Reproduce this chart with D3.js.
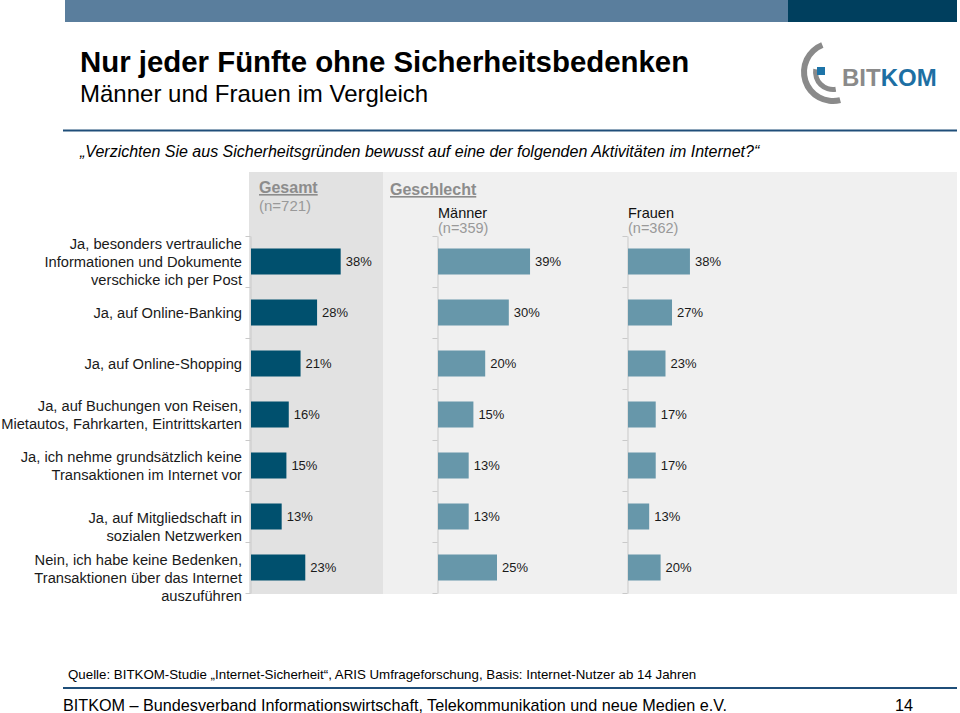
<!DOCTYPE html>
<html><head><meta charset="utf-8">
<script src="https://cdn.jsdelivr.net/npm/d3@7"></script>
<style>body{margin:0;background:#fff}svg{display:block;font-family:"Liberation Sans",Arial,sans-serif}</style>
</head><body>
<svg id="chart" width="960" height="713"></svg>
<script>
const categories = [
  "Ja, besonders vertrauliche|Informationen und Dokumente|verschicke ich per Post",
  "Ja, auf Online-Banking",
  "Ja, auf Online-Shopping",
  "Ja, auf Buchungen von Reisen,|Mietautos, Fahrkarten, Eintrittskarten",
  "Ja, ich nehme grundsätzlich keine|Transaktionen im Internet vor",
  "Ja, auf Mitgliedschaft in|sozialen Netzwerken",
  "Nein, ich habe keine Bedenken,|Transaktionen über das Internet|auszuführen"
];
const gesamt  = [38, 28, 21, 16, 15, 13, 23];
const maenner = [39, 30, 20, 15, 13, 13, 25];
const frauen  = [38, 27, 23, 17, 17, 13, 20];
const groupNames = ["Gesamt", "Männer", "Frauen"];
const groupN = ["(n=721)", "(n=359)", "(n=362)"];
const sectionTitle = "Geschlecht";

const svg = d3.select("#chart");

// top bar
svg.append("rect").attr("x",65).attr("y",0).attr("width",723).attr("height",22).attr("fill","#5a7e9d");
svg.append("rect").attr("x",788).attr("y",0).attr("width",169).attr("height",22).attr("fill","#003f5e");

// logo
const logo = svg.append("g").attr("transform","translate(833,72)");
const arc = d3.arc();
logo.append("path").attr("d",arc({innerRadius:26,outerRadius:32,startAngle:Math.PI*0.92,endAngle:Math.PI*1.88})).attr("fill","#8a8a8a");
logo.append("path").attr("d",arc({innerRadius:15,outerRadius:20,startAngle:Math.PI*0.95,endAngle:Math.PI*1.55})).attr("fill","#8a8a8a");
logo.append("rect").attr("x",-16).attr("y",-5).attr("width",8).attr("height",8).attr("fill","#1d74a8");
const lt = svg.append("text").attr("x",842).attr("y",86).attr("font-size",24).attr("font-weight","bold");
lt.append("tspan").attr("fill","#8a8a8a").text("BIT");
lt.append("tspan").attr("fill","#1d6fa3").text("KOM");

// titles
svg.append("text").attr("x",80).attr("y",72).attr("font-size",29.4).attr("font-weight","bold").attr("fill","#000")
  .text("Nur jeder Fünfte ohne Sicherheitsbedenken");
svg.append("text").attr("x",80).attr("y",102).attr("font-size",24).attr("fill","#000")
  .text("Männer und Frauen im Vergleich");
svg.append("line").attr("x1",63).attr("x2",957).attr("y1",130.5).attr("y2",130.5).attr("stroke","#1f4e79").attr("stroke-width",2);
svg.append("text").attr("x",80).attr("y",157).attr("font-size",16).attr("font-style","italic").attr("fill","#000")
  .text("\u201EVerzichten Sie aus Sicherheitsgründen bewusst auf eine der folgenden Aktivitäten im Internet?\u201C");

// panels
svg.append("rect").attr("x",249).attr("y",172).attr("width",134).attr("height",422).attr("fill","#e2e2e2");
svg.append("rect").attr("x",383).attr("y",172).attr("width",574).attr("height",422).attr("fill","#f0f0f0");

// scales
const y = d3.scaleBand().domain(categories).range([236,593]).paddingInner(0.49).paddingOuter(0.245);
const yTick = d3.scaleLinear().domain([0, categories.length]).range([236,593]);
const xG = d3.scaleLinear().domain([0,100]).range([251,487]);
const xM = d3.scaleLinear().domain([0,100]).range([438,674]);
const xF = d3.scaleLinear().domain([0,100]).range([628,791]);

const series = [
  {name:groupNames[0], n:groupN[0], vals:gesamt, x:xG, color:"#00506e"},
  {name:groupNames[1], n:groupN[1], vals:maenner, x:xM, color:"#6797aa"},
  {name:groupNames[2], n:groupN[2], vals:frauen, x:xF, color:"#6797aa"}
];

// headers
svg.append("text").attr("x",259).attr("y",193).attr("font-size",16).attr("font-weight","bold").attr("fill","#8c8c8c")
  .attr("text-decoration","underline").text(series[0].name);
svg.append("text").attr("x",259).attr("y",211).attr("font-size",15).attr("fill","#999").text(series[0].n);
svg.append("text").attr("x",390).attr("y",195).attr("font-size",16).attr("font-weight","bold").attr("fill","#8c8c8c")
  .attr("text-decoration","underline").text(sectionTitle);
series.slice(1).forEach(s => {
  const x0 = s.x(0);
  svg.append("text").attr("x",x0).attr("y",218).attr("font-size",14.5).attr("fill","#111").text(s.name);
  svg.append("text").attr("x",x0).attr("y",233).attr("font-size",14.5).attr("fill","#999").text(s.n);
});

// axes, bars, labels
series.forEach(s => {
  const ax = svg.append("g").attr("transform",`translate(${s.x(0)-0.5},0)`)
    .call(d3.axisLeft(yTick).ticks(categories.length).tickSize(5).tickSizeOuter(0).tickFormat(""));
  ax.selectAll("path,line").attr("stroke","#c9c9c9");
  svg.append("g").selectAll("rect").data(s.vals).join("rect")
    .attr("x",s.x(0)).attr("y",(d,i)=>y(categories[i]))
    .attr("width",d=>s.x(d)-s.x(0)).attr("height",y.bandwidth())
    .attr("fill",s.color);
  svg.append("g").selectAll("text").data(s.vals).join("text")
    .attr("x",d=>s.x(d)+5).attr("y",(d,i)=>y(categories[i])+y.bandwidth()/2)
    .attr("dy","0.35em").attr("font-size",13).attr("fill","#1a1a1a").text(d=>d+"%");
});

// category labels
categories.forEach((c,i) => {
  const lines = c.split("|");
  const lh = 18;
  const cy = y(c) + y.bandwidth()/2 + (i >= 5 ? 10 : 0);
  const t = svg.append("text").attr("text-anchor","end").attr("font-size",14.7).attr("fill","#1a1a1a");
  lines.forEach((l,k) => {
    t.append("tspan").attr("x",242).attr("y",cy + (k - (lines.length-1)/2)*lh).attr("dy","0.35em").text(l);
  });
});

// footer
svg.append("text").attr("x",68).attr("y",679).attr("font-size",13.3).attr("fill","#000")
  .text("Quelle: BITKOM-Studie \u201EInternet-Sicherheit\u201C, ARIS Umfrageforschung, Basis: Internet-Nutzer ab 14 Jahren");
svg.append("line").attr("x1",63).attr("x2",957).attr("y1",688).attr("y2",688).attr("stroke","#1f4e79").attr("stroke-width",2);
svg.append("text").attr("x",63).attr("y",711).attr("font-size",16.2).attr("fill","#000")
  .text("BITKOM \u2013 Bundesverband Informationswirtschaft, Telekommunikation und neue Medien e.V.");
svg.append("text").attr("x",895).attr("y",711).attr("font-size",16.2).attr("fill","#000").text("14");
</script>
</body></html>
